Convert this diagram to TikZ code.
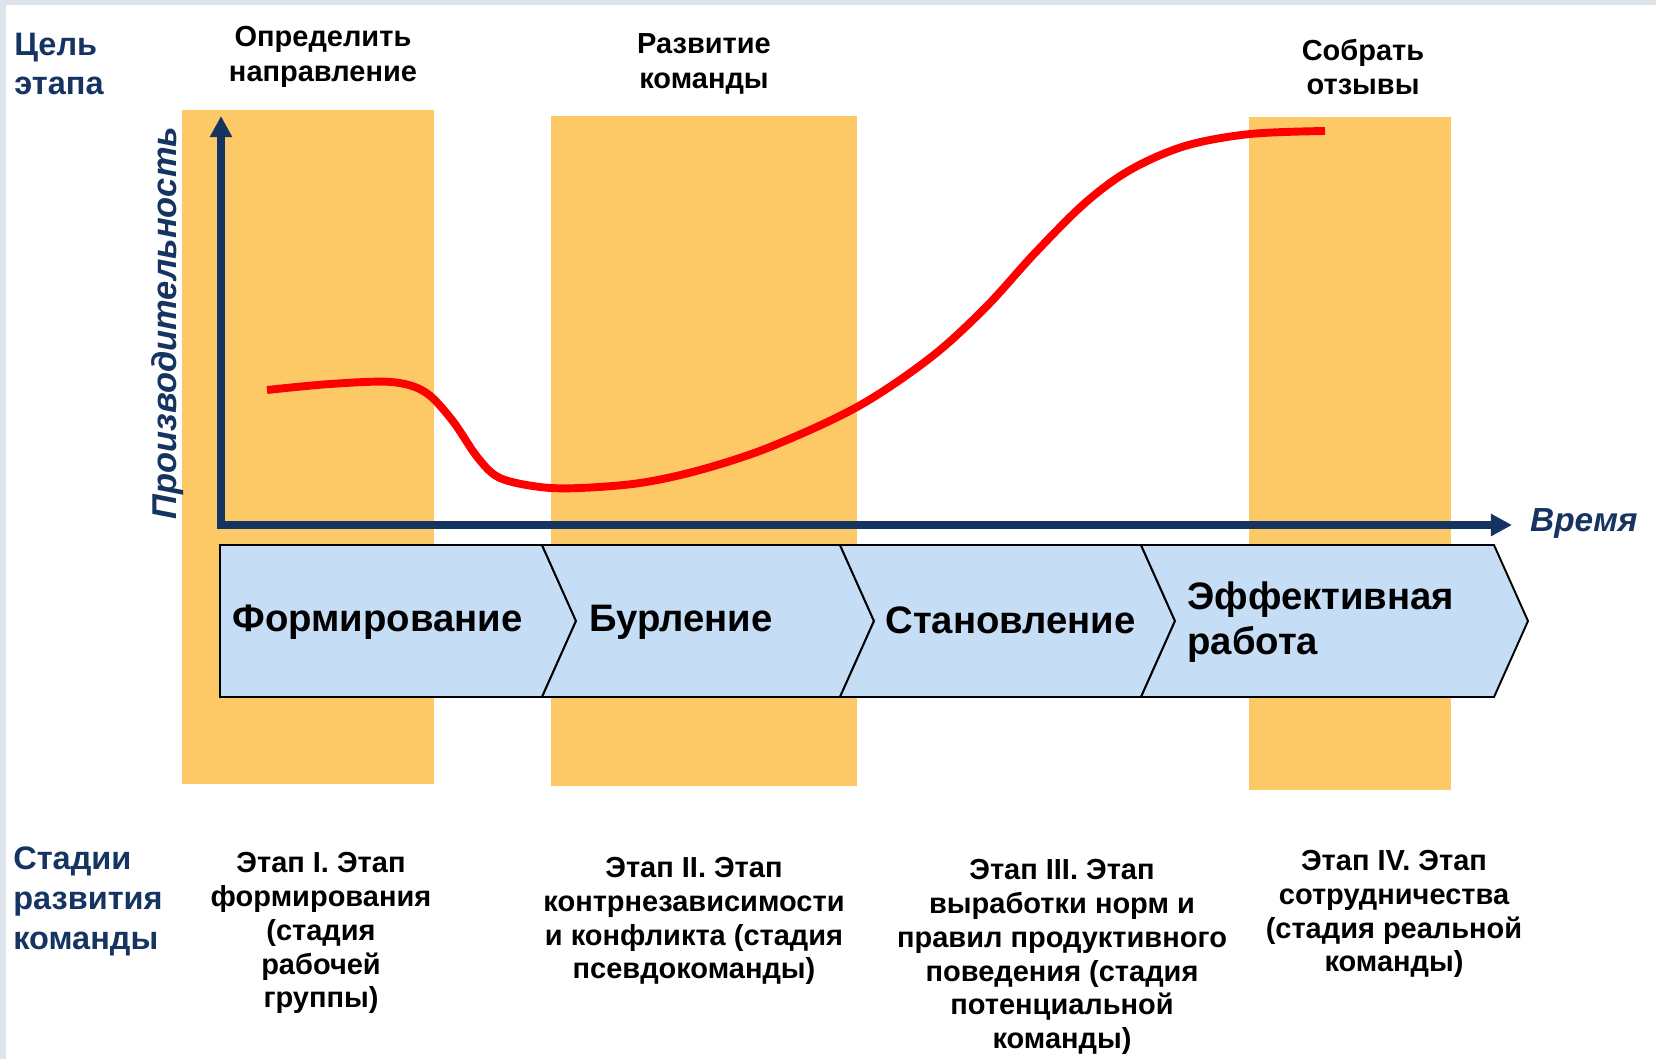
\documentclass[tikz,border=0pt]{standalone}
\usepackage{fontspec}
\setmainfont{Liberation Sans}
\usetikzlibrary{arrows.meta}
\usetikzlibrary{positioning}

\definecolor{navy}{RGB}{22,52,98}
\definecolor{barorange}{RGB}{253,201,103}
\definecolor{chevblue}{RGB}{198,221,246}
\definecolor{framegray}{RGB}{221,228,236}

\begin{document}
\begin{tikzpicture}[x=0.02cm,y=-0.02cm]
			\tikzset{bar/.style = {fill=barorange, draw=none}}
			\tikzset{chev/.style = {fill=chevblue, draw=black, line width=1.1pt, 
					line join=miter}}
			\tikzset{axis/.style = {-{Triangle[length=12pt,width=12pt]}, 
					draw=navy, line width=4pt, line cap=rect}}
			\tikzset{goal/.style = {font=\bfseries\fontsize{16.5}{19.5}\selectfont, 
					align=center}}
			\tikzset{stage/.style = {font=\bfseries\fontsize{16.5}{19.3}\selectfont, 
					align=center}}
			\tikzset{phase/.style = {font=\bfseries\fontsize{21.8}{25.5}\selectfont, 
					align=left, anchor=west, inner sep=0pt}}
			\tikzset{side/.style = {font=\bfseries\fontsize{18.5}{22.7}\selectfont, 
					text=navy, align=left, anchor=west, inner sep=0pt}}

		% frame and bars
		\useasboundingbox (0,0) rectangle (1656,1059);
		\fill[framegray] (0,0) rectangle (1656,5);
		\fill[framegray] (0,0) rectangle (6,1059);
		\fill[bar] (182,110) rectangle (434,784);
		\fill[bar] (551,116) rectangle (857,786);
		\fill[bar] (1249,117) rectangle (1451,790);
		
		% axes
		\coordinate (orig) at (221,525);
		\coordinate (ytip) at (221,116);
		\coordinate (xtip) at (1512,525);
		\draw[axis] (orig) -- (ytip);
		\draw[axis] (orig) -- (xtip);
		\node[rotate=90, text=navy, font=\bfseries\itshape\fontsize{19.6}{24}\selectfont] 
			(perf) at (168,323) {Производительность};
		\node[anchor=west, text=navy, font=\bfseries\itshape\fontsize{19}{23}\selectfont] 
			(time) at (1524,523) {Время};
		
		% chevrons
		\draw[chev] (220,545) -- (542,545) -- (576,621) -- (542,697) -- (220,697) -- cycle;
		\draw[chev] (542,545) -- (840,545) -- (874,621) -- (840,697) -- (542,697) 
			-- (576,621) -- cycle;
		\draw[chev] (840,545) -- (1141,545) -- (1175,621) -- (1141,697) -- (840,697) 
			-- (874,621) -- cycle;
		\draw[chev] (1141,545) -- (1494,545) -- (1528,621) -- (1494,697) -- (1141,697) 
			-- (1175,621) -- cycle;
		
		\node[phase] (form) at (232,622) {Формирование};
		\node[phase] (storm) at (589,622) {Бурление};
		\node[phase] (norm) at (885,620) {Становление};
		\node[phase] (perform) at (1187,622) {Эффективная\\работа};
		
		% curve
		\draw[red, line width=4.5pt, line cap=butt] plot[smooth, tension=0.55] coordinates {
			(267,390) (330,384) (391,382) (425,392) (452,420) (478,458) (500,478) 
			(540,487) (580,488) (640,483) (700,470) (770,447) (857,407) (930,358) 
			(985,308) (1035,253) (1085,203) (1130,170) (1185,146) (1250,134) (1325,131)};
		
		% goals
		\node[side] (goalhead) at (14,64) {Цель\\этапа};
		\node[goal] (goal1) at (323,57) {Определить\\направление};
		\node[goal] (goal2) at (704,64) {Развитие\\команды};
		\node[goal] (goal3) at (1363,67) {Собрать\\отзывы};
		
		% stages
		\node[side] (stagehead) at (13,901) {Стадии\\развития\\команды};
		\node[stage] (st1) at (321,933) {Этап I. Этап\\формирования\\(стадия\\рабочей\\группы)};
		\node[stage] (st2) at (694,921) {Этап II. Этап\\контрнезависимости\\и конфликта (стадия\\псевдокоманды)};
		\node[stage] (st3) at (1062,957) {Этап III. Этап\\выработки норм и\\правил продуктивного\\поведения (стадия\\потенциальной\\команды)};
		\node[stage] (st4) at (1394,914) {Этап IV. Этап\\сотрудничества\\(стадия реальной\\команды)};

\end{tikzpicture}
\end{document}
